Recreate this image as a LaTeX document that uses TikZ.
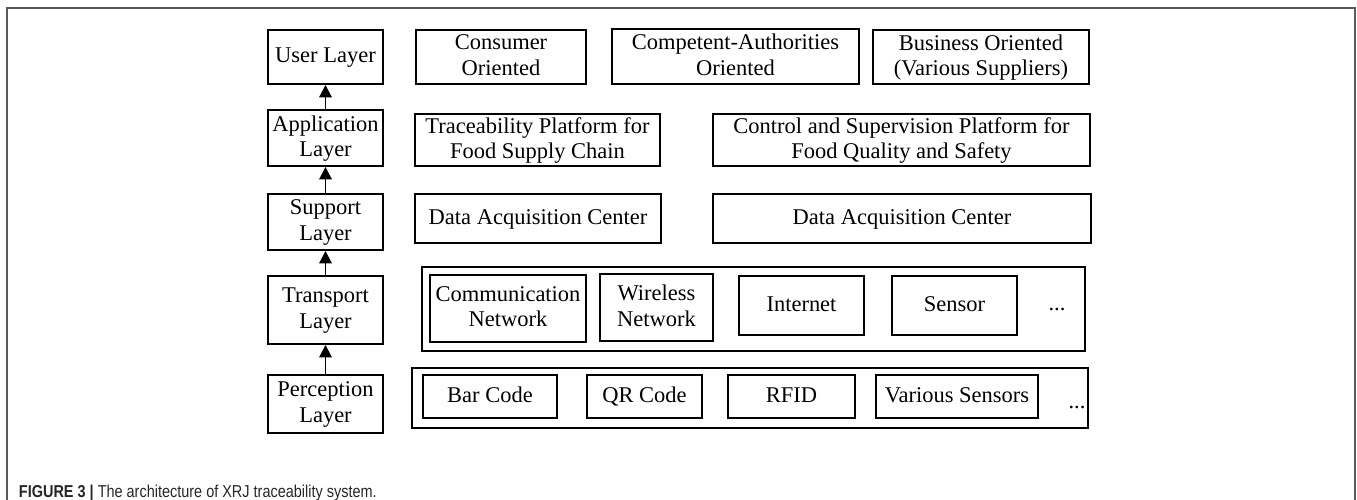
\documentclass[tikz,border=0pt]{standalone}
\usepackage{fontspec}
\usetikzlibrary{arrows.meta}
\setmainfont{Liberation Serif}
\newfontfamily\capfont[FakeStretch=0.84]{Liberation Sans}

\begin{document}
\begin{tikzpicture}[x=0.02cm,y=-0.02cm,thick,line width=1.1pt,
        box/.style={rectangle,draw,inner sep=1pt,align=center,text depth=0.22em,font=\fontsize{12.8}{14.6}\selectfont},
        oneline/.style={text height=0.66em,text depth=0pt},
        >={Triangle[width=7pt,length=7pt]}]
        \useasboundingbox (0,0) rectangle (1357,500);
        \draw [line width=1pt, black!65] (7,500) -- (7,8) -- (1355,8) -- (1355,500);
        % layers
        \node [box, oneline, minimum width=2.3cm, minimum height=1.08cm] (user) at (325.5,57) {User Layer};
        \node [box, minimum width=2.3cm, minimum height=1.12cm] (app) at (325.5,138) {Application\\Layer};
        \node [box, minimum width=2.3cm, minimum height=1.12cm] (sup) at (325.5,222) {Support\\Layer};
        \node [box, minimum width=2.3cm, minimum height=1.36cm] (trans) at (325.5,310) {Transport\\Layer};
        \node [box, minimum width=2.3cm, minimum height=1.16cm] (perc) at (325.5,404) {Perception\\Layer};
        \path [draw,->] (perc) edge (trans);
        \path [draw,->] (trans) edge (sup);
        \path [draw,->] (sup) edge (app);
        \path [draw,->] (app) edge (user);
        % user layer
        \node [box, minimum width=3.4cm, minimum height=1.08cm] (cons) at (501,57) {Consumer\\Oriented};
        \node [box, minimum width=4.94cm, minimum height=1.1cm] (auth) at (735.5,56.5) {Competent-Authorities\\Oriented};
        \node [box, minimum width=4.32cm, minimum height=1.08cm] (bus) at (981,57) {Business Oriented\\(Various Suppliers)};
        % application layer
        \node [box, minimum width=4.9cm, minimum height=1.04cm] (trace) at (537.5,140) {Traceability Platform for\\Food Supply Chain};
        \node [box, minimum width=7.54cm, minimum height=1.04cm] (ctrl) at (901.5,140) {Control and Supervision Platform for\\Food Quality and Safety};
        % support layer
        \node [box, oneline, minimum width=4.92cm, minimum height=0.98cm] (dac1) at (538,218.5) {Data Acquisition Center};
        \node [box, oneline, minimum width=7.56cm, minimum height=0.98cm] (dac2) at (902,218.5) {Data Acquisition Center};
        % transport layer
        \node [box, minimum width=13.26cm, minimum height=1.68cm] (net) at (753.5,309) {};
        \node [box, minimum width=3.12cm, minimum height=1.34cm] (comm) at (508,308.5) {Communication\\Network};
        \node [box, minimum width=2.26cm, minimum height=1.34cm] (wless) at (656.5,307.5) {Wireless\\Network};
        \node [box, oneline, minimum width=2.5cm, minimum height=1.18cm] (inet) at (801.5,305.5) {Internet};
        \node [box, oneline, minimum width=2.5cm, minimum height=1.18cm] (sens) at (954.5,305.5) {Sensor};
        \node [box, draw=none] (dots1) at (1057,311) {...};
        % perception layer
        \node [box, minimum width=13.52cm, minimum height=1.2cm] (tag) at (750,398) {};
        \node [box, oneline, minimum width=2.68cm, minimum height=0.86cm] (bar) at (490,396.5) {Bar Code};
        \node [box, oneline, minimum width=2.3cm, minimum height=0.86cm] (qr) at (644.5,396.5) {QR Code};
        \node [box, oneline, minimum width=2.54cm, minimum height=0.86cm] (rfid) at (791.5,396.5) {RFID};
        \node [box, oneline, minimum width=3.24cm, minimum height=0.86cm] (vsens) at (957,396.5) {Various Sensors};
        \node [box, draw=none] (dots2) at (1077,409) {...};
        % caption
        \node [anchor=base west, inner sep=0pt, text=black!85, font=\capfont\fontsize{9.8}{11}\selectfont] (cap) at (18,497) {\textbf{FIGURE 3 |} The architecture of XRJ traceability system.};
    \end{tikzpicture}
\end{document}
